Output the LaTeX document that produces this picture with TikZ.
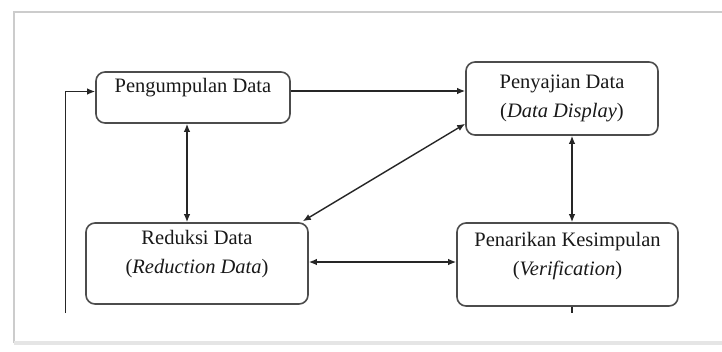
\documentclass[tikz,border=0pt]{standalone}
\usepackage{fontspec}
\setmainfont{Liberation Serif}
\usetikzlibrary{arrows.meta}
\begin{document}
\begin{tikzpicture}[x=1pt,y=-1pt,
  box/.style={draw=black!70,line width=1.6pt,rounded corners=9pt,fill=white,
    align=center,inner sep=0pt,font=\fontsize{20.5}{29}\selectfont,text=black!90},
  conn/.style={draw=black!85,line width=1.4pt},
  arr/.style={conn,-{Latex[length=8pt,width=6.5pt]}},
  darr/.style={conn,{Latex[length=8pt,width=6.5pt]}-{Latex[length=8pt,width=6.5pt]}},
  frame/.style={draw=black!20,line width=2.5pt}]
\useasboundingbox (0,0) rectangle (722,351);
\fill[white] (0,0) rectangle (722,351);
% frame
\coordinate (f1) at (14,343);
\coordinate (f2) at (14,12);
\coordinate (f3) at (722,12);
\coordinate (f4) at (722,343);
\draw[frame] (f1) -- (f2) -- (f3);
\draw[draw=black!10,line width=4pt] (f1) -- (f4);
% nodes
\node[box,minimum width=194pt,minimum height=51pt] (b1) at (193,97.5) {Pengumpulan Data\\[-4pt]};
\node[box,minimum width=192pt,minimum height=73pt] (b2) at (562,98.5) {Penyajian Data\\(\textit{Data Display})};
\node[box,minimum width=222pt,minimum height=81pt] (b3) at (197,263.5) {Reduksi Data\\(\textit{Reduction Data})\\[-6pt]};
\node[box,minimum width=221pt,minimum height=83pt] (b4) at (567.5,264.5) {Penarikan Kesimpulan\\(\textit{Verification})\\[-8pt]};
% helper coordinates
\coordinate (L0) at (65.5,313);
\coordinate (L1) at (65.5,91.5);
\coordinate (h1) at (0,91);
\coordinate (h2) at (0,262);
\coordinate (v1) at (187,0);
\coordinate (v2) at (572,0);
\coordinate (E) at (572,313);
% connectors
\draw[arr] (L0) -- (L1) -- (L1 -| b1.west);
\draw[arr] (b1.east |- h1) -- (b2.west |- h1);
\draw[darr] (b1.south -| v1) -- (b3.north -| v1);
\draw[darr] ([xshift=-6pt,yshift=1pt]b3.north east) -- ([yshift=12pt]b2.south west);
\draw[darr] (b2.south -| v2) -- (b4.north -| v2);
\draw[darr] (b3.east |- h2) -- (b4.west |- h2);
\draw[conn] (b4.south -| v2) -- (E);
\end{tikzpicture}
\end{document}
